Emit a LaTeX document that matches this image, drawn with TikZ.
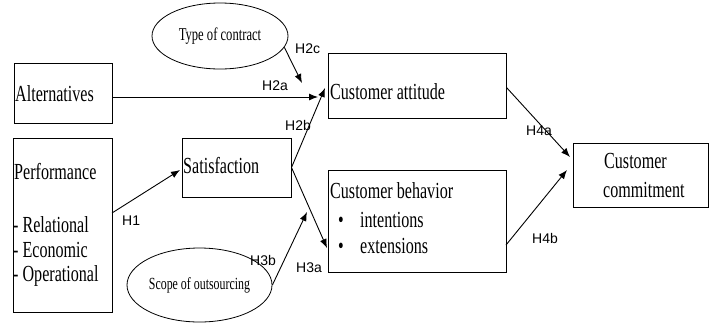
\documentclass[tikz,border=0pt]{standalone}
\usepackage{fontspec}
\setmainfont{Liberation Serif}[FakeStretch=0.7]
\setsansfont{Liberation Sans}
\usetikzlibrary{arrows.meta,shapes.geometric,positioning}

\tikzset{
  box/.style={draw, line width=1pt, inner sep=0pt},
  oval/.style={draw, ellipse, line width=0.8pt, inner sep=0pt},
  txt/.style={anchor=base west, inner sep=0pt, font=\fontsize{23}{25}\selectfont},
  hyp/.style={anchor=base west, inner sep=0pt, font=\sffamily\fontsize{14}{16}\selectfont},
  link/.style={line width=0.9pt, -{Latex[length=9pt,width=7pt]}}
}

\begin{document}
\begin{tikzpicture}[x=1pt, y=-1pt]
    \useasboundingbox (0,0) rectangle (714,322);

    % Boxes
    \node[box, minimum width=98pt, minimum height=60pt] (alt) at (63,93) {};
    \node[box, minimum width=99pt, minimum height=174pt] (perf) at (62.5,225) {};
    \node[box, minimum width=109pt, minimum height=59pt] (sat) at (236.5,167.5) {};
    \node[box, minimum width=178pt, minimum height=65pt] (att) at (417,85.5) {};
    \node[box, minimum width=178pt, minimum height=102pt] (beh) at (417,221) {};
    \node[box, minimum width=135pt, minimum height=64pt] (com) at (640.5,175) {};

    % Moderators
    \node[oval, minimum width=136pt, minimum height=66pt, font=\fontsize{18}{20}\selectfont] (contract) at (220,36) {Type of contract};
    \node[oval, minimum width=145pt, minimum height=74pt, font=\fontsize{17}{19}\selectfont] (scope) at (199.5,285) {Scope of outsourcing};

    % Box texts
    \node[txt] (altT) at (15,101) {Alternatives};
    \node[txt] (perfT) at (14,179) {Performance};
    \node[txt] (rel) at (13,232) {- Relational};
    \node[txt] (eco) at (13,257) {- Economic};
    \node[txt] (ope) at (13,281) {- Operational};
    \node[txt] (satT) at (183,173) {Satisfaction};
    \node[txt] (attT) at (330,99) {Customer attitude};
    \node[txt] (behT) at (330,198) {Customer behavior};
    \node[txt] (b1) at (338,227) {\textbullet};
    \node[txt] (int) at (360,227) {intentions};
    \node[txt] (b2) at (338,253) {\textbullet};
    \node[txt] (ext) at (360,253) {extensions};
    \node[txt] (comT1) at (604,168) {Customer};
    \node[txt] (comT2) at (603,197) {commitment};

    % Arrow ends
    \coordinate (t2c) at (302,83);
    \coordinate (t2a) at (318,97);
    \coordinate (t2b) at (325,88);
    \coordinate (t1) at (180,170);
    \coordinate (s1) at (112,213);
    \coordinate (t3a) at (327,248);
    \coordinate (t3b) at (307,212);
    \coordinate (t4a) at (570,157);
    \coordinate (t4b) at (567,170);
    \coordinate (s4b) at (506,245);

    % Connectors
    \draw[link] (contract.350) -- (t2c);
    \draw[link] (alt.east |- t2a) -- (t2a);
    \draw[link] (sat.east) -- (t2b);
    \draw[link] (s1) -- (t1);
    \draw[link] (sat.east) -- (t3a);
    \draw[link] (scope.east) -- (t3b);
    \draw[link] ([yshift=-2pt]att.east) -- (t4a);
    \draw[link] (s4b) -- (t4b);

    % Hypotheses
    \node[hyp] (h2c) at (295,53) {H2c};
    \node[hyp] (h2a) at (262,90) {H2a};
    \node[hyp] (h2b) at (285,130) {H2b};
    \node[hyp] (h1) at (122,225) {H1};
    \node[hyp] (h3b) at (250,265) {H3b};
    \node[hyp] (h3a) at (296,272) {H3a};
    \node[hyp] (h4a) at (526,135) {H4a};
    \node[hyp] (h4b) at (532,243) {H4b};
\end{tikzpicture}
\end{document}
